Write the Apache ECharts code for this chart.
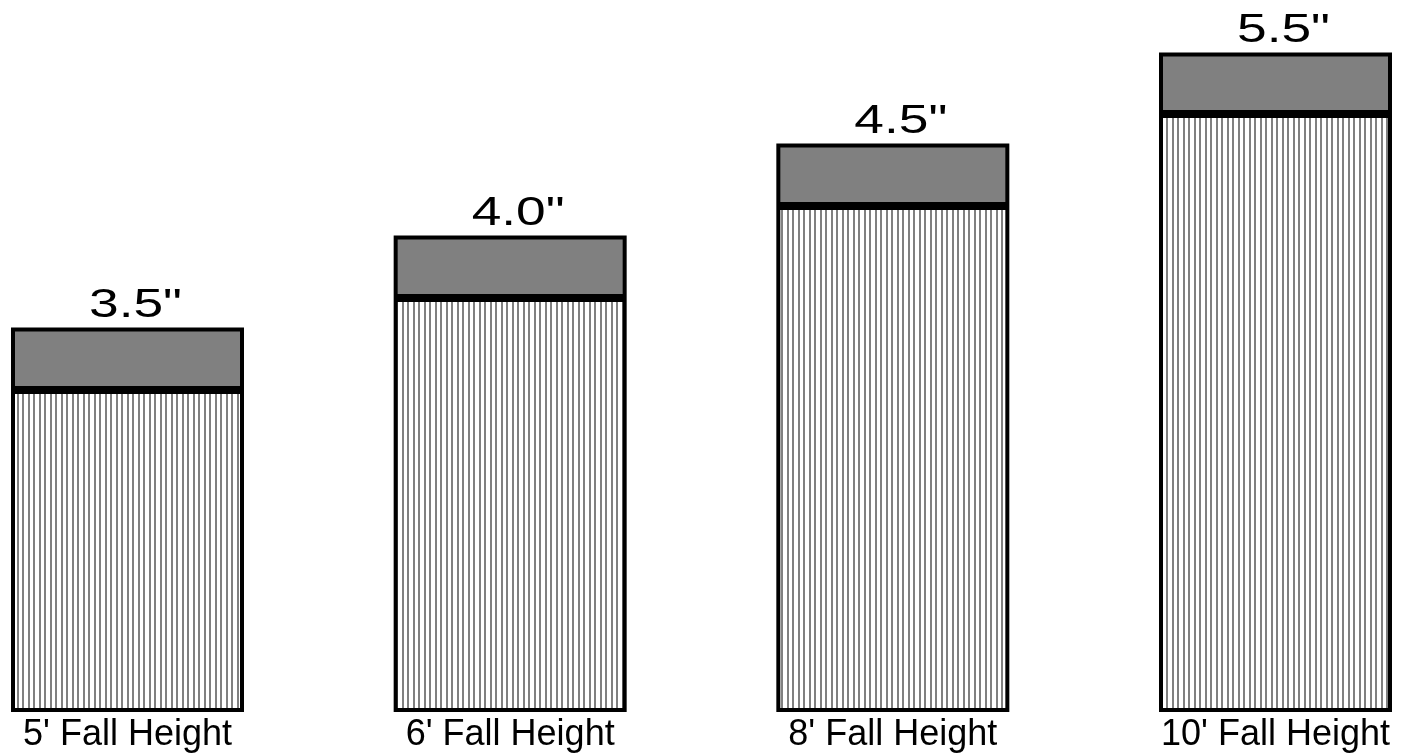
<!DOCTYPE html>
<html>
<head>
<meta charset="utf-8">
<script src="https://cdn.jsdelivr.net/npm/echarts@6/dist/echarts.min.js"></script>
<style>
  html, body { margin: 0; padding: 0; background: #ffffff; }
  #chart { width: 1409px; height: 755px; }
</style>
</head>
<body>
<div id="chart"></div>
<script>
// ---- data ----
const categories = ["5' Fall Height", "6' Fall Height", "8' Fall Height", "10' Fall Height"];
const hatchValues = [3.5, 4.5, 5.5, 6.5];      // hatched (lower) segment
const capValues = [0.68, 0.68, 0.68, 0.67];    // solid grey (upper) segment
const topLabels = ['3.5"', '4.0"', '4.5"', '5.5"'];

// ---- vertical stripe pattern ----
const pc = document.createElement('canvas');
pc.width = 11; pc.height = 4;
const pctx = pc.getContext('2d');
pctx.fillStyle = '#ffffff';
pctx.fillRect(0, 0, 11, 4);
pctx.fillStyle = '#808080';
pctx.fillRect(0, 0, 2, 4);
pctx.fillRect(6, 0, 2, 4);

const FONT = "'Liberation Sans', Arial, Helvetica, sans-serif";

const chart = echarts.init(document.getElementById('chart'), null, { renderer: 'canvas' });
chart.setOption({
  backgroundColor: '#ffffff',
  animation: false,
  grid: { left: 127.5, right: 133.5, top: 0, bottom: 43, containLabel: false, outerBoundsMode: 'none' },
  xAxis: {
    type: 'category',
    data: categories,
    boundaryGap: false,
    axisLine: { show: false },
    axisTick: { show: false },
    splitLine: { show: false },
    axisLabel: {
      interval: 0,
      margin: 5,
      color: '#000000',
      fontSize: 36,
      fontFamily: FONT
    }
  },
  yAxis: {
    type: 'value',
    min: 0,
    max: 7.74,
    show: false
  },
  series: [
    {
      type: 'bar',
      stack: 'total',
      data: hatchValues,
      barWidth: 233,
      clip: false,
      itemStyle: {
        color: { image: pc, repeat: 'repeat' },
        borderColor: '#000000',
        borderWidth: 4
      }
    },
    {
      type: 'bar',
      stack: 'total',
      data: capValues,
      barWidth: 233,
      clip: false,
      itemStyle: {
        color: '#808080',
        borderColor: '#000000',
        borderWidth: 4
      }
    },
    {
      type: 'custom',
      z: 10,
      clip: false,
      data: categories.map((c, i) => [i, hatchValues[i] + capValues[i]]),
      renderItem: function (params, api) {
        const pt = api.coord([api.value(0), api.value(1)]);
        return {
          type: 'text',
          x: pt[0] + 8,
          y: pt[1] - 22,
          scaleX: 1.3,
          style: {
            text: topLabels[params.dataIndex],
            fill: '#000000',
            fontSize: 41,
            fontFamily: FONT,
            align: 'center',
            verticalAlign: 'middle'
          }
        };
      }
    }
  ]
});
</script>
</body>
</html>
